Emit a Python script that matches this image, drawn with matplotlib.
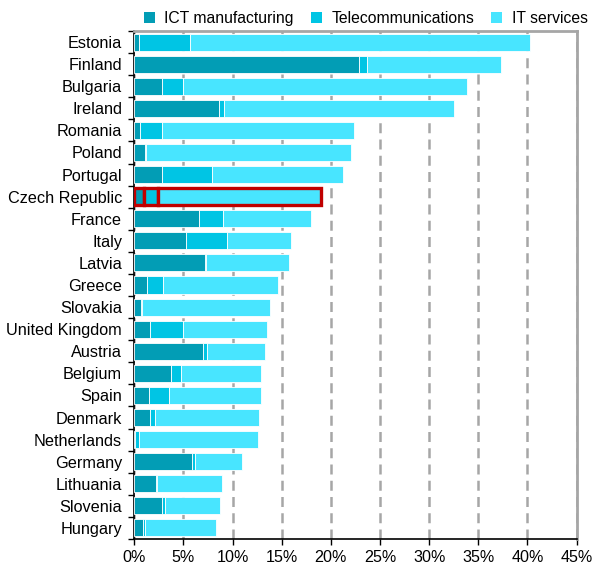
import matplotlib.pyplot as plt
from matplotlib.patches import Patch
from matplotlib.ticker import FixedLocator, FuncFormatter

plt.rcParams['font.family'] = ['Liberation Sans', 'DejaVu Sans']
plt.rcParams['font.size'] = 11

# Share of ICT sector value added, by sub-sector (%)
countries = ['Estonia', 'Finland', 'Bulgaria', 'Ireland', 'Romania', 'Poland',
             'Portugal', 'Czech Republic', 'France', 'Italy', 'Latvia', 'Greece',
             'Slovakia', 'United Kingdom', 'Austria', 'Belgium', 'Spain',
             'Denmark', 'Netherlands', 'Germany', 'Lithuania', 'Slovenia', 'Hungary']
ict_manufacturing = [0.5, 22.9, 2.8, 8.6, 0.55, 1.1, 2.8, 0.95, 6.6, 5.25, 7.2, 1.3,
                     0.7, 1.6, 7.0, 3.75, 1.45, 1.6, 0.1, 5.85, 2.25, 2.85, 0.9]
telecommunications = [5.2, 0.8, 2.2, 0.5, 2.25, 0.05, 5.1, 1.5, 2.4, 4.15, 0.05, 1.6,
                      0.05, 3.35, 0.4, 1.0, 2.05, 0.5, 0.4, 0.35, 0.05, 0.25, 0.2]
it_services = [34.6, 13.6, 28.9, 23.4, 19.55, 20.9, 13.3, 16.55, 8.95, 6.5, 8.45, 11.7,
               13.05, 8.55, 5.95, 8.15, 9.4, 10.6, 12.1, 4.8, 6.6, 5.6, 7.2]
highlight = 'Czech Republic'

series = [('ICT manufacturing', ict_manufacturing, '#029DB5'),
          ('Telecommunications', telecommunications, '#00C5E4'),
          ('IT services', it_services, '#48E5FF')]

fig = plt.figure(figsize=(5.94, 5.64), dpi=100)
ax = fig.add_axes([134.3 / 594, 1 - 539 / 564, (576.5 - 134.3) / 594, (539 - 31) / 564])

ypos = list(range(len(countries)))
left = [0.0] * len(countries)
for name, vals, col in series:
    bars = ax.barh(ypos, vals, left=left, height=0.77, color=col,
                   edgecolor='white', linewidth=0.6, zorder=3)
    for i, b in enumerate(bars):
        if countries[i] == highlight:
            b.set_edgecolor('#C00000')
            b.set_linewidth(2.4)
            b.set_zorder(4)
    left = [l + v for l, v in zip(left, vals)]

ax.set_xlim(0, 45)
ax.set_ylim(len(countries) - 0.5, -0.5)

# x axis: percent ticks with dashed grid
ax.set_xticks(range(0, 50, 5))
ax.xaxis.set_major_formatter(FuncFormatter(lambda v, p: f'{int(v)}%'))
ax.grid(axis='x', color='#A6A6A6', linestyle=(0, (4, 2.5)), linewidth=1.8, zorder=0)
ax.tick_params(axis='x', length=4, width=1, color='black', pad=4, labelsize=11.6)

# y axis: labels at category centres, tick marks at category boundaries
ax.set_yticks(ypos)
ax.set_yticklabels(countries)
ax.yaxis.set_minor_locator(FixedLocator([y - 0.5 for y in range(len(countries) + 1)]))
ax.tick_params(axis='y', which='major', length=0, pad=8.8, labelsize=11.7)
ax.tick_params(axis='y', which='minor', length=4, width=1, color='black')

for side in ('left', 'bottom'):
    ax.spines[side].set_color('black')
    ax.spines[side].set_linewidth(1.2)
for side in ('top', 'right'):
    ax.spines[side].set_color('#A6A6A6')
    ax.spines[side].set_linewidth(2)

handles = [Patch(facecolor=c, edgecolor='none') for _, _, c in series]
fig.legend(handles, [n for n, _, _ in series], loc='center right',
           bbox_to_anchor=(1.0, 0.968), ncol=3, frameon=False,
           handlelength=0.7, handleheight=0.7, handletextpad=0.6,
           columnspacing=1.1, fontsize=11.3, borderaxespad=0.2, borderpad=0.2)

fig.savefig('out.png', dpi=100)
